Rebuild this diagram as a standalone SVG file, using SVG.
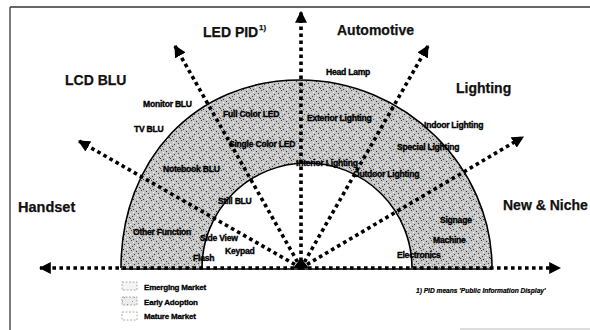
<svg xmlns="http://www.w3.org/2000/svg" width="590" height="330" viewBox="0 0 590 330">
<style>
.big{font-family:"Liberation Sans",Arial,sans-serif;font-weight:bold;font-size:14px;fill:#111;stroke:#111;stroke-width:0.25}
.sm{font-family:"Liberation Sans",Arial,sans-serif;font-weight:bold;font-size:8.6px;fill:#000;stroke:#000;stroke-width:0.35;letter-spacing:-0.25px}
.leg{font-family:"Liberation Sans",Arial,sans-serif;font-weight:bold;font-size:8px;fill:#000;stroke:#000;stroke-width:0.3;letter-spacing:-0.2px}
.note{font-family:"Liberation Sans",Arial,sans-serif;font-weight:bold;font-style:italic;font-size:6.6px;fill:#000;stroke:#000;stroke-width:0.2}
.dot{fill:none;stroke:#000;stroke-width:3.6;stroke-dasharray:3.6 3.4}
.edge{fill:none;stroke:#000;stroke-width:1.6}
.lbox{stroke:#999;stroke-width:0.8;stroke-dasharray:2 1.5}
</style>
<defs>
<pattern id="stip" width="10" height="10" patternUnits="userSpaceOnUse">
<rect width="10" height="10" fill="#c4c4c4"/>
<rect x="1" y="0" width="1" height="1" fill="#444"/>
<rect x="6" y="1" width="1" height="1" fill="#333"/>
<rect x="3" y="2" width="1" height="1" fill="#fff"/>
<rect x="8" y="3" width="1" height="1" fill="#444"/>
<rect x="0" y="4" width="1" height="1" fill="#fff"/>
<rect x="4" y="4" width="1" height="1" fill="#333"/>
<rect x="7" y="5" width="1" height="1" fill="#fff"/>
<rect x="2" y="6" width="1" height="1" fill="#444"/>
<rect x="9" y="7" width="1" height="1" fill="#333"/>
<rect x="5" y="7" width="1" height="1" fill="#fff"/>
<rect x="0" y="8" width="1" height="1" fill="#444"/>
<rect x="3" y="9" width="1" height="1" fill="#333"/>
<rect x="7" y="9" width="1" height="1" fill="#fff"/>
</pattern>
<pattern id="stipLight" width="10" height="10" patternUnits="userSpaceOnUse">
<rect width="10" height="10" fill="#ececec"/>
<rect x="2" y="1" width="1" height="1" fill="#999"/>
<rect x="7" y="4" width="1" height="1" fill="#999"/>
<rect x="4" y="7" width="1" height="1" fill="#999"/>
</pattern>
<marker id="ah" viewBox="0 0 10 10" refX="9" refY="5" markerUnits="userSpaceOnUse" markerWidth="12" markerHeight="12" orient="auto">
<path d="M0,0 L10,5 L0,10 z" fill="#000"/>
</marker>
</defs>
<rect width="590" height="330" fill="#fff"/>
<g id="frame">
<line x1="10" y1="7" x2="590" y2="7" stroke="#333" stroke-width="1.4"/>
<line x1="10" y1="7" x2="10" y2="330" stroke="#444" stroke-width="1.4"/>
<line x1="460" y1="329" x2="590" y2="329" stroke="#bbb" stroke-width="1"/>
</g>
<g id="band">
<path d="M121,268 C121,160 195,80 300,80 C404,80 492,166 492,268 L412,268 A105,105 0 0 0 202,268 Z" fill="url(#stip)"/>
<path class="edge" d="M121,268 C121,160 195,80 300,80 C404,80 492,166 492,268"/>
<path class="edge" d="M412,268 A105,105 0 0 0 202,268"/>
<line class="edge" x1="121" y1="269" x2="492" y2="269"/>
</g>
<g id="connectors">
<line class="dot" x1="301" y1="268" x2="40" y2="268" marker-end="url(#ah)"/>
<line class="dot" x1="301" y1="268" x2="560" y2="268" marker-end="url(#ah)"/>
<line class="dot" x1="301" y1="268" x2="301" y2="12" marker-end="url(#ah)"/>
<line class="dot" x1="301" y1="268" x2="175" y2="46" marker-end="url(#ah)"/>
<line class="dot" x1="301" y1="268" x2="79" y2="141" marker-end="url(#ah)"/>
<line class="dot" x1="301" y1="268" x2="428" y2="46" marker-end="url(#ah)"/>
<line class="dot" x1="301" y1="268" x2="523" y2="137" marker-end="url(#ah)"/>
<path d="M293,268 L301,258 L309,268 Z" fill="#000"/>
</g>
<g id="sector-labels">
<text class="big" x="203" y="37">LED PID</text>
<text class="big" x="259" y="30" style="font-size:8px">1)</text>
<text class="big" x="337" y="35">Automotive</text>
<text class="big" x="65" y="85">LCD BLU</text>
<text class="big" x="456" y="93">Lighting</text>
<text class="big" x="18" y="212" style="font-size:14.5px">Handset</text>
<text class="big" x="503" y="210">New &amp; Niche</text>
</g>
<g id="item-labels">
<text class="sm" x="143" y="107">Monitor BLU</text>
<text class="sm" x="134" y="132">TV BLU</text>
<text class="sm" x="223" y="117">Full Color LED</text>
<text class="sm" x="229" y="147">Single Color LED</text>
<text class="sm" x="163" y="172">Notebook BLU</text>
<text class="sm" x="218" y="204">Still BLU</text>
<text class="sm" x="133" y="235">Other Function</text>
<text class="sm" x="200" y="241">Side View</text>
<text class="sm" x="225" y="254">Keypad</text>
<text class="sm" x="193" y="261">Flash</text>
<text class="sm" x="326" y="75">Head Lamp</text>
<text class="sm" x="307" y="121">Exterior Lighting</text>
<text class="sm" x="424" y="128">Indoor Lighting</text>
<text class="sm" x="397" y="150">Special Lighting</text>
<text class="sm" x="296" y="166">Interior Lighting</text>
<text class="sm" x="353" y="177">Outdoor Lighting</text>
<text class="sm" x="440" y="223">Signage</text>
<text class="sm" x="433" y="243">Machine</text>
<text class="sm" x="397" y="258">Electronics</text>
</g>
<g id="legend">
<rect class="lbox" x="122" y="282" width="15" height="8" fill="#f4f4f4"/>
<rect class="lbox" x="122" y="297" width="15" height="8" fill="url(#stipLight)"/>
<rect class="lbox" x="122" y="312" width="15" height="8" fill="#fff"/>
<text class="leg" x="144" y="290">Emerging Market</text>
<text class="leg" x="144" y="305">Early Adoption</text>
<text class="leg" x="144" y="319">Mature Market</text>
</g>
<g id="footnote">
<text class="note" x="416" y="293">1) PID means 'Public Information Display'</text>
</g>
</svg>
